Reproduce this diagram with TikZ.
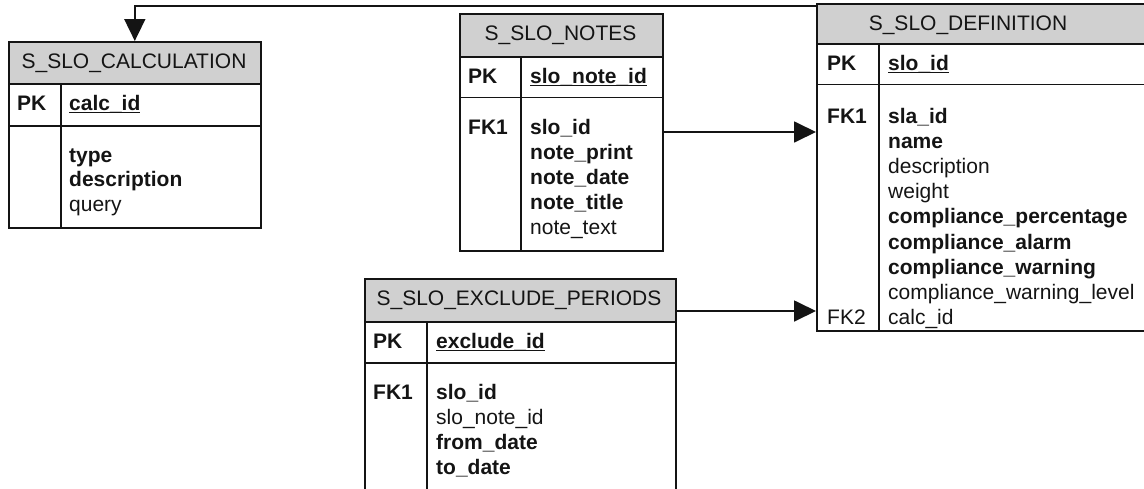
\documentclass[tikz,border=0pt]{standalone}
\usepackage{fontspec}
\setmainfont{Liberation Sans}
\usetikzlibrary{arrows.meta,calc}
\definecolor{headgray}{RGB}{208,208,208}
\definecolor{ink}{RGB}{20,20,20}
% primary-key field: bold text with a heavy underline
\newcommand\keyfield[1]{\setbox0\hbox{\bfseries #1}\rlap{\rule[-3.4pt]{\wd0}{1.7pt}}\box0}

\begin{document}
\begin{tikzpicture}[x=1pt,y=-1pt,font=\fontsize{21}{25}\selectfont,
  tablebox/.style={draw=ink, line width=1.6pt, anchor=north west, inner sep=0pt},
  headbox/.style={draw=ink, fill=headgray, line width=1.6pt, anchor=north west, inner sep=0pt},
  rule/.style={draw=ink, line width=1.6pt},
  title/.style={anchor=base, inner sep=0pt, text=ink},
  keylab/.style={anchor=base west, inner sep=0pt, text=ink},
  field/.style={anchor=base west, inner sep=0pt, text=ink},
  fk/.style={draw=ink, line width=1.8pt, -{Triangle[length=22pt,width=21pt]}}]
\useasboundingbox (0,0) rectangle (1144,488);
\clip (0,0) rectangle (1144,488);

% ---------- S_SLO_CALCULATION ----------
\node[tablebox, minimum width=252pt, minimum height=186pt] (calc) at (8,41) {};
\node[headbox, minimum width=252pt, minimum height=42pt] (calc-head) at (calc.north west) {};
\node[title] (calc-title) at (134,68) {S\_SLO\_CALCULATION};
\draw[rule] (8,126) -- (260,126);
\draw[rule] (61,83) -- (61,227);
\node[keylab] (calc-pk) at (17,110) {\bfseries PK};
\node[field] (calc-key) at (69,110) {\keyfield{calc\_id}};
\foreach \t [count=\i from 0] in {{\bfseries type},{\bfseries description},query}
  \node[field] (calc-f\i) at (69,162+24.5*\i) {\t};

% ---------- S_SLO_NOTES ----------
\node[tablebox, minimum width=203pt, minimum height=237pt] (notes) at (459,13) {};
\node[headbox, minimum width=203pt, minimum height=43pt] (notes-head) at (notes.north west) {};
\node[title] (notes-title) at (560.5,40) {S\_SLO\_NOTES};
\draw[rule] (459,97.5) -- (662,97.5);
\draw[rule] (521,56) -- (521,250);
\node[keylab] (notes-pk) at (468,83) {\bfseries PK};
\node[field] (notes-key) at (530,83) {\keyfield{slo\_note\_id}};
\node[keylab] (notes-fk1) at (468,134) {\bfseries FK1};
\foreach \t [count=\i from 0] in {{\bfseries slo\_id},{\bfseries note\_print},{\bfseries note\_date},{\bfseries note\_title},note\_text}
  \node[field] (notes-f\i) at (530,134+25.2*\i) {\t};

% ---------- S_SLO_DEFINITION ----------
\node[tablebox, minimum width=340pt, minimum height=327pt] (def) at (816,3) {};
\node[headbox, minimum width=340pt, minimum height=40pt] (def-head) at (def.north west) {};
\node[title] (def-title) at (968,30) {S\_SLO\_DEFINITION};
\draw[rule] (816,84.5) -- (1150,84.5);
\draw[rule] (879,43) -- (879,330);
\node[keylab] (def-pk) at (827,70) {\bfseries PK};
\node[field] (def-key) at (888,70) {\keyfield{slo\_id}};
\node[keylab] (def-fk1) at (827,123) {\bfseries FK1};
\node[keylab] (def-fk2) at (827,123+25.2*8) {FK2};
\foreach \t [count=\i from 0] in {{\bfseries sla\_id},{\bfseries name},description,weight,{\bfseries compliance\_percentage},{\bfseries compliance\_alarm},{\bfseries compliance\_warning},compliance\_warning\_level,calc\_id}
  \node[field] (def-f\i) at (888,123+25.2*\i) {\t};

% ---------- S_SLO_EXCLUDE_PERIODS ----------
\node[tablebox, minimum width=311pt, minimum height=240pt] (excl) at (364,278) {};
\node[headbox, minimum width=311pt, minimum height=43pt] (excl-head) at (excl.north west) {};
\node[title] (excl-title) at (519,305) {S\_SLO\_EXCLUDE\_PERIODS};
\draw[rule] (364,363) -- (675,363);
\draw[rule] (427,321) -- (427,518);
\node[keylab] (excl-pk) at (373,348) {\bfseries PK};
\node[field] (excl-key) at (436,348) {\keyfield{exclude\_id}};
\node[keylab] (excl-fk1) at (373,399) {\bfseries FK1};
\foreach \t [count=\i from 0] in {{\bfseries slo\_id},slo\_note\_id,{\bfseries from\_date},{\bfseries to\_date}}
  \node[field] (excl-f\i) at (436,399+25.2*\i) {\t};

% ---------- relationships ----------
\coordinate (notes-row) at (0,132);
\coordinate (excl-row) at (0,311);
\coordinate (top-run) at (0,6);
\draw[fk] (notes.east |- notes-row) -- (def.west |- notes-row);
\draw[fk] (excl.east |- excl-row) -- (def.west |- excl-row);
\draw[fk] (def.west |- top-run) -| (calc.north);
\end{tikzpicture}
\end{document}
